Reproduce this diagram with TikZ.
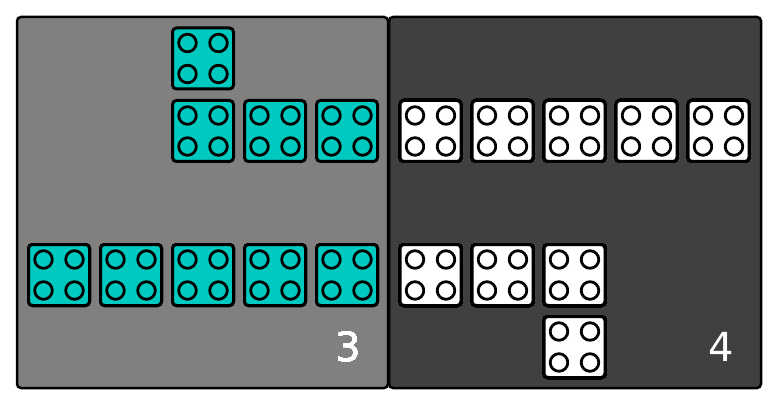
\documentclass[tikz,border=0pt]{standalone}
\usepackage{fontspec}
\setmainfont{DejaVu Sans}
\usepackage{tikz}
\usetikzlibrary{calc}
\definecolor{studteal}{RGB}{0,201,192}
\definecolor{lightpanel}{RGB}{128,128,128}
\definecolor{darkpanel}{RGB}{64,64,64}
\newcommand{\legobrick}[4]{%
  \node[brick,fill=#4] (#1) at (#2,#3) {};
  \foreach \sx in {-15.5,15.5}
    \foreach \sy in {-15.5,15.5}
      \draw[stud] ($(#1)+(\sx,\sy)$) circle (8.8pt);
}

\begin{document}
\begin{tikzpicture}[x=1pt,y=-1pt,
  panel/.style={draw=black,line width=2.5pt,rounded corners=4pt},
  brick/.style={draw=black,line width=3pt,rounded corners=4pt,
    minimum size=61pt,inner sep=0pt},
  stud/.style={draw=black,line width=2.8pt},
  count/.style={text=white,font=\fontsize{40}{48}\selectfont}]
  \useasboundingbox (0,0) rectangle (778,406);
  \draw[panel,fill=lightpanel] (17,17) rectangle (388,388);
  \draw[panel,fill=darkpanel] (389,17) rectangle (761,388);
  % left side
  \legobrick{tt}{203}{58.5}{studteal}
  \foreach \x/\n in {203/a,275/b,347/c}
    \legobrick{t\n}{\x}{131}{studteal}
  \foreach \x/\n in {59/a,131/b,203/c,275/d,347/e}
    \legobrick{u\n}{\x}{275}{studteal}
  % right side
  \foreach \x/\n in {430.5/a,502.5/b,574.5/c,646.5/d,718.5/e}
    \legobrick{w\n}{\x}{131}{white}
  \foreach \x/\n in {430.5/a,502.5/b,574.5/c}
    \legobrick{v\n}{\x}{275}{white}
  \legobrick{vv}{574.5}{347}{white}
  \node[count] (three) at (348,347) {3};
  \node[count] (four) at (721,347) {4};
\end{tikzpicture}
\end{document}
